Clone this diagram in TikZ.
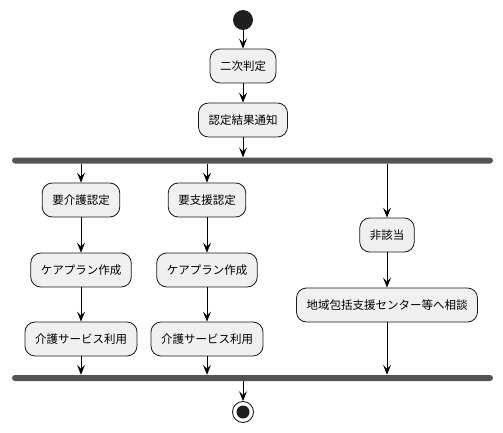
\documentclass[tikz,border=0pt]{standalone}
\usepackage{fontspec}
\setmainfont{Noto Sans CJK JP}
\usetikzlibrary{arrows.meta}
\begin{document}
\begin{tikzpicture}[x=1pt,y=-1pt,
  act/.style={draw=black!90,fill=black!6,line width=0.8pt,rounded corners=10pt,
    minimum height=34pt,inner xsep=10pt,font=\fontsize{11.5pt}{13pt}\selectfont,anchor=center},
  bar/.style={fill=black!67,rounded corners=3pt,minimum width=481pt,minimum height=6pt,inner sep=0pt},
  arr/.style={line width=0.9pt,-{Stealth[length=10pt,width=8pt,inset=4pt]}}]
\useasboundingbox (0,0) rectangle (503,433);
\node[circle,fill=black!88,minimum size=20pt,inner sep=0pt] (start) at (243,20) {};
\node[act] (a1) at (243,66) {二次判定};
\node[act] (a2) at (243,120) {認定結果通知};
\node[bar] (fork) at (252.5,160.5) {};
\node[act] (k1) at (81,200) {要介護認定};
\node[act] (k2) at (81,270) {ケアプラン作成};
\node[act] (k3) at (81,339) {介護サービス利用};
\node[act] (s1) at (207,200) {要支援認定};
\node[act] (s2) at (207,270) {ケアプラン作成};
\node[act] (s3) at (207,339) {介護サービス利用};
\node[act] (n1) at (387,235) {非該当};
\node[act] (n2) at (387,305) {地域包括支援センター等へ相談};
\node[bar] (join) at (252.5,378) {};
\node[circle,draw=black!88,line width=0.9pt,minimum size=21pt,inner sep=0pt] (end) at (243,412) {};
\node[circle,fill=black!88,minimum size=13pt,inner sep=0pt] at (end.center) {};
\draw[arr] (start) -- (a1);
\draw[arr] (a1) -- (a2);
\draw[arr] (a2.south) -- (fork.north -| a2);
\draw[arr] (fork.south -| k1) -- (k1);
\draw[arr] (fork.south -| s1) -- (s1);
\draw[arr] (fork.south -| n1) -- (n1);
\draw[arr] (k1) -- (k2);
\draw[arr] (k2) -- (k3);
\draw[arr] (s1) -- (s2);
\draw[arr] (s2) -- (s3);
\draw[arr] (n1) -- (n2);
\draw[arr] (k3) -- (join.north -| k3);
\draw[arr] (s3) -- (join.north -| s3);
\draw[arr] (n2) -- (join.north -| n2);
\draw[arr] (join.south -| end) -- (end);
\end{tikzpicture}
\end{document}
